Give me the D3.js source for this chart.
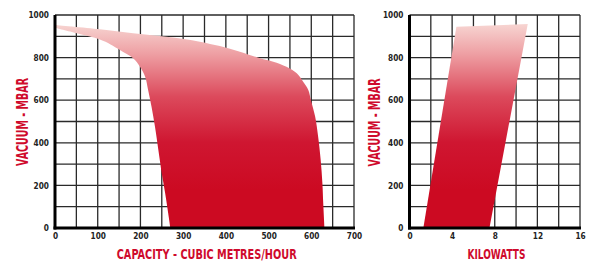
<!DOCTYPE html>
<html><head><meta charset="utf-8">
<script src="https://cdn.jsdelivr.net/npm/d3@7"></script>
<style>
html,body{margin:0;padding:0;background:#fff;}
svg{display:block;}
.tick text{font-family:"Liberation Sans Narrow","DejaVu Sans Condensed","Arial Narrow",sans-serif;font-weight:bold;font-size:8.2px;fill:#222;}
.title{font-family:"Liberation Sans Narrow","DejaVu Sans Condensed","Arial Narrow",sans-serif;font-weight:bold;font-size:13.5px;fill:#cf0a2c;}
</style></head>
<body><svg id="c" width="598" height="262"></svg>
<script>
// ---- data ----
const capTicks = [0,100,200,300,400,500,600,700];
const kwTicks = [0,4,8,12,16];
const vacTicks = [0,200,400,600,800,1000];
// capacity chart: upper/right boundary
const capUpper = [0,105,183,261,339,386,433,480,511,542,566,581,593,599,609,616,622,626,628,631];
const vacUpper = [953,933,914,898,875,854,828,797,781,757,726,687,648,601,523,429,319,210,116,0];
// capacity chart: lower/left boundary
const capLower = [0,51,105,130,152,183,199,211,218,226,234,242,250,258,265,270];
const vacLower = [940,914,885,862,836,797,757,710,648,569,476,366,256,162,69,0];
// power chart polygon
const kwPts = [1.3,4.4,11.1,7.5];
const kwVac = [0,945,958,0];

const svg = d3.select("#c");
const defs = svg.append("defs");
function grad(id){
  const g = defs.append("linearGradient").attr("id",id)
    .attr("gradientUnits","userSpaceOnUse").attr("x1",0).attr("x2",0).attr("y1",20).attr("y2",190);
  [[0,"#f8dcd8"],[0.2,"#ee9fa3"],[0.45,"#dc4a5c"],[0.72,"#cf1631"],[1,"#cc0a22"]]
    .forEach(([o,c])=>g.append("stop").attr("offset",o).attr("stop-color",c));
}
grad("gL"); grad("gR");

const y = d3.scaleLinear([0,1000],[228,15]);
const xL = d3.scaleLinear([0,700],[55,354]);
const xR = d3.scaleLinear([0,16],[409.5,580]);

function grid(x, xstep, xmax){
  const g = svg.append("g");
  g.selectAll(".v").data(d3.range(0, xmax+0.001, xstep)).join("line")
    .attr("x1",d=>x(d)).attr("x2",d=>x(d)).attr("y1",y(1000)).attr("y2",y(0))
    .attr("stroke","#2a2a2a").attr("stroke-width",1.3);
  g.selectAll(".h").data(d3.range(0,1000.001,100)).join("line")
    .attr("x1",x(0)).attr("x2",x(xmax)).attr("y1",d=>y(d)).attr("y2",d=>y(d))
    .attr("stroke","#2a2a2a").attr("stroke-width",1.3);
}
grid(xL,50,700);
grid(xR,2,16);

// capacity area
const lineL = d3.line().x(d=>xL(d[0])).y(d=>y(d[1])).curve(d3.curveCatmullRom.alpha(0.5));
const up = capUpper.map((c,i)=>[c,vacUpper[i]]);
const lo = capLower.map((c,i)=>[c,vacLower[i]]).reverse();
const pathL = lineL(up) + "L" + lineL(lo).slice(1) + "Z";
svg.append("path").attr("d",pathL).attr("fill","url(#gL)");

// power area
const poly = kwPts.map((k,i)=>[xR(k),y(kwVac[i])]);
svg.append("path").attr("d",d3.line()(poly)+"Z").attr("fill","url(#gR)");

// axes lines (thick)
function axesLines(x, xmax){
  svg.append("line").attr("x1",x(0)).attr("x2",x(0)).attr("y1",y(1000)).attr("y2",y(0)+1.5)
    .attr("stroke","#000").attr("stroke-width",3);
  svg.append("line").attr("x1",x(0)-1.5).attr("x2",x(xmax)+1).attr("y1",y(0)).attr("y2",y(0))
    .attr("stroke","#000").attr("stroke-width",3);
}
axesLines(xL,700); axesLines(xR,16);

// tick labels
function axes(x, ticks){
  const ax = svg.append("g").attr("transform",`translate(0,${y(0)})`)
    .call(d3.axisBottom(x).tickValues(ticks).tickSize(0).tickPadding(5).tickFormat(d3.format("d")));
  ax.select(".domain").remove();
  const ay = svg.append("g").attr("transform",`translate(${x(0)},0)`)
    .call(d3.axisLeft(y).tickValues(vacTicks).tickSize(0).tickPadding(6).tickFormat(d3.format("d")));
  ay.select(".domain").remove();
}
axes(xL,capTicks); axes(xR,kwTicks);

// titles
svg.append("text").attr("class","title").attr("x",206.7).attr("y",259).attr("text-anchor","middle")
  .attr("textLength",180).attr("lengthAdjust","spacingAndGlyphs").text("CAPACITY - CUBIC METRES/HOUR");
svg.append("text").attr("class","title").attr("x",496.5).attr("y",259).attr("text-anchor","middle")
  .attr("textLength",58).attr("lengthAdjust","spacingAndGlyphs").text("KILOWATTS");
[[28.3,122],[380,122.5]].forEach(([tx,ty])=>{
  svg.append("text").attr("class","title").style("font-size","15px")
    .attr("transform",`translate(${tx},${ty}) rotate(-90)`)
    .attr("text-anchor","middle").attr("textLength",88).attr("lengthAdjust","spacingAndGlyphs")
    .text("VACUUM - MBAR");
});
</script></body></html>
